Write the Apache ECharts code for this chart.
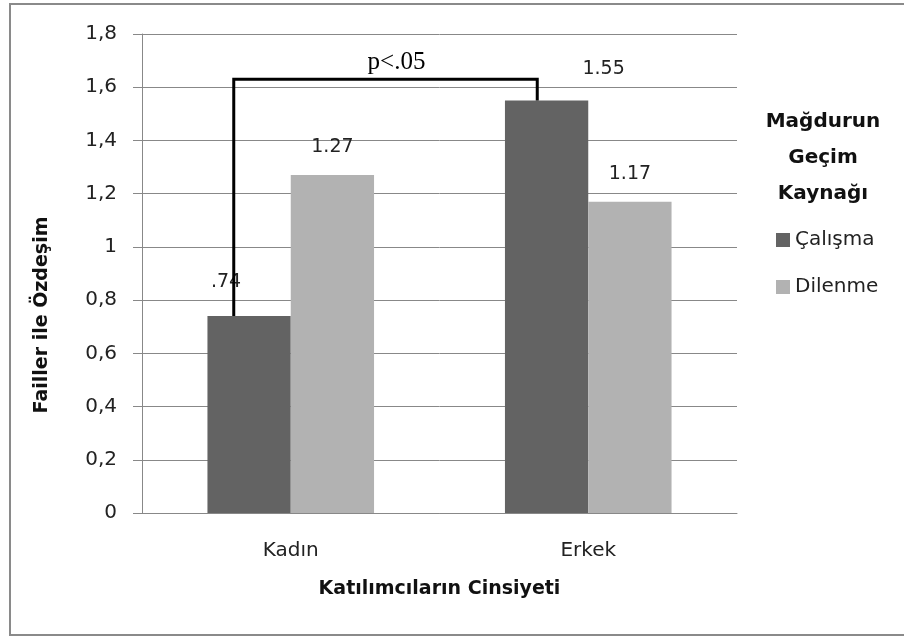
<!DOCTYPE html>
<html>
<head>
<meta charset="utf-8">
<script src="https://cdn.jsdelivr.net/npm/echarts@6/dist/echarts.min.js"></script>
<style>
  html, body { margin: 0; padding: 0; background: #fff; }
  #chart { width: 904px; height: 637px; }
</style>
</head>
<body>
<div id="chart"></div>
<script>
  // data
  const categories = ['Kadın', 'Erkek'];
  const seriesNames = ['Çalışma', 'Dilenme'];
  const calisma = [0.74, 1.55];
  const dilenme = [1.27, 1.17];
  const calismaText = ['.74', '1.55'];
  const dilenmeText = ['1.27', '1.17'];
  const yMin = 0, yMax = 1.8, yStep = 0.2;
  // significance bracket between the two Çalışma bars
  const bracketTop = 1.63;
  const bracketText = 'p<.05';

  // label nudges (the Çalışma labels sit off-centre in the source)
  const calismaOffsets = [[-23, -6], [57, -3]];

  const FONT = 'DejaVu Sans';
  const chart = echarts.init(document.getElementById('chart'));

  chart.setOption({
    animation: false,
    textStyle: { fontFamily: FONT },
    title: {
      text: 'Mağdurun\nGeçim\nKaynağı',
      left: 818,
      top: 99,
      textAlign: 'center',
      textStyle: { fontFamily: FONT, fontSize: 20, fontWeight: 'bold', lineHeight: 36, color: '#111' }
    },
    legend: {
      data: seriesNames,
      orient: 'vertical',
      left: 771,
      top: 225,
      icon: 'rect',
      itemWidth: 14,
      itemHeight: 14,
      itemGap: 27,
      textStyle: { fontFamily: FONT, fontSize: 20, color: '#222' }
    },
    grid: { left: 142, right: 167, top: 34, bottom: 124 },
    xAxis: {
      type: 'category',
      data: categories,
      axisLine: { lineStyle: { color: '#888', width: 1 } },
      axisTick: { show: false },
      axisLabel: { margin: 28, fontSize: 20, color: '#222', fontFamily: FONT },
      name: 'Katılımcıların Cinsiyeti',
      nameLocation: 'middle',
      nameGap: 67,
      nameTextStyle: { fontFamily: FONT, fontSize: 19, fontWeight: 'bold', color: '#111' }
    },
    yAxis: {
      type: 'value',
      min: yMin,
      max: yMax,
      interval: yStep,
      axisLine: { show: true, lineStyle: { color: '#888', width: 1 } },
      axisTick: { show: true, length: 9, lineStyle: { color: '#888' } },
      axisLabel: {
        margin: 25,
        fontSize: 20,
        color: '#222',
        fontFamily: FONT,
        formatter: v => String(+v.toFixed(1)).replace('.', ',')
      },
      splitLine: { lineStyle: { color: '#888', width: 1 } }
    },
    series: [
      {
        name: seriesNames[0],
        type: 'bar',
        barWidth: '28%',
        barGap: '0%',
        itemStyle: { color: '#636363' },
        label: {
          show: true,
          position: 'top',
          distance: 18,
          fontSize: 19,
          lineHeight: 20,
          color: '#222',
          fontFamily: FONT,
          formatter: p => calismaText[p.dataIndex]
        },
        data: calisma.map((v, i) => ({ value: v, label: { offset: calismaOffsets[i] } }))
      },
      {
        name: seriesNames[1],
        type: 'bar',
        barWidth: '28%',
        barGap: '0%',
        itemStyle: { color: '#b2b2b2' },
        label: {
          show: true,
          position: 'top',
          distance: 18,
          fontSize: 19,
          lineHeight: 20,
          color: '#222',
          fontFamily: FONT,
          formatter: p => dilenmeText[p.dataIndex]
        },
        data: dilenme
      }
    ]
  });

  // bracket + y name + outer frame, placed through the chart's own scales
  const pL = chart.convertToPixel({ gridIndex: 0 }, [0, calisma[0]]);
  const pR = chart.convertToPixel({ gridIndex: 0 }, [1, calisma[1]]);
  const yTop = chart.convertToPixel({ yAxisIndex: 0 }, bracketTop);
  const xL = pL[0] - 57;
  const xR = pR[0] - 51;

  chart.setOption({
    graphic: [
      {
        id: 'frame',
        type: 'rect',
        shape: { x: 10, y: 4, width: 1000, height: 631 },
        style: { fill: 'none', stroke: '#8a8a8a', lineWidth: 2 },
        silent: true
      },
      {
        id: 'yname',
        type: 'text',
        x: 42,
        y: 315,
        rotation: Math.PI / 2,
        style: {
          text: 'Failler ile Özdeşim',
          font: 'bold 19px "DejaVu Sans"',
          fill: '#111',
          align: 'center',
          verticalAlign: 'middle'
        }
      },
      {
        id: 'bracket',
        type: 'polyline',
        shape: { points: [[xL, pL[1]], [xL, yTop], [xR, yTop], [xR, pR[1]]] },
        style: { stroke: '#000', lineWidth: 3, fill: 'none' },
        z: 10
      },
      {
        id: 'ptext',
        type: 'text',
        x: (xL + xR) / 2 + 11,
        y: yTop - 17,
        style: {
          text: bracketText,
          font: '25px "Liberation Serif"',
          fill: '#000',
          align: 'center',
          verticalAlign: 'middle'
        },
        z: 10
      }
    ]
  });
</script>
</body>
</html>
